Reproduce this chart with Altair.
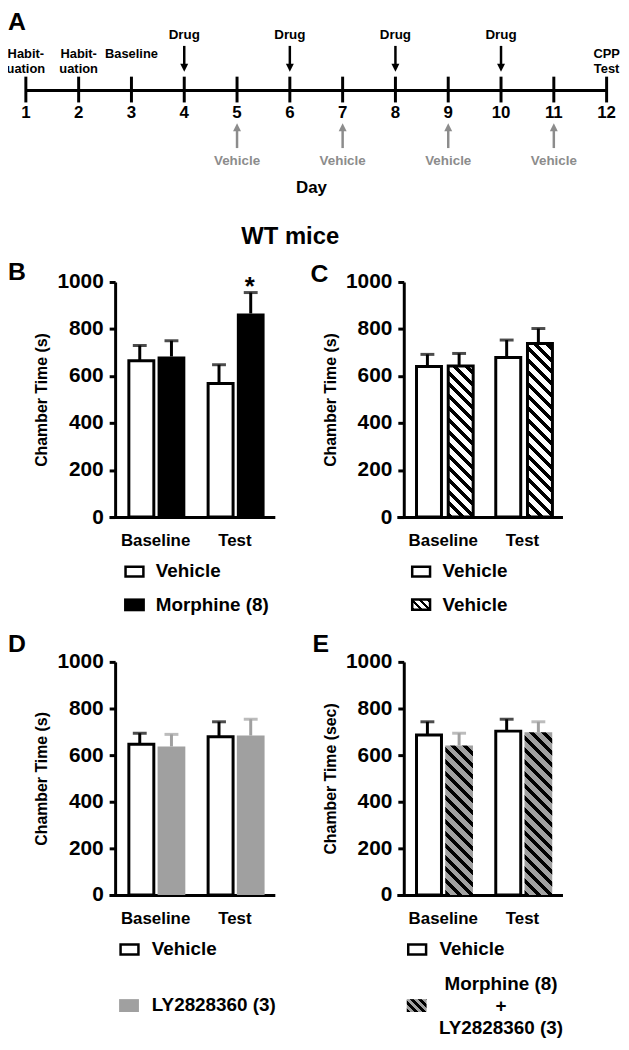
import altair as alt
import pandas as pd

FONT = "Liberation Sans"
W, H = 618, 1034
GRAY = "#a0a0a0"
TL_GRAY = "#8c8c8c"

# ---------------- data ----------------
days = [1, 2, 3, 4, 5, 6, 7, 8, 9, 10, 11, 12]
top_label_days = [1, 2, 3, 12]
top_labels = ["Habit-\nuation", "Habit-\nuation", "Baseline", "CPP\nTest"]
drug_days = [4, 6, 8, 10]
vehicle_days = [5, 7, 9, 11]

groups = ["Baseline", "Test"]
series = ["first", "second"]

B_legend = ["Vehicle", "Morphine (8)"]
B_first_mean = [665, 568]
B_first_sem = [65, 80]
B_second_mean = [683, 866]
B_second_sem = [67, 89]
B_second_star = ["", "*"]

C_legend = ["Vehicle", "Vehicle"]
C_first_mean = [640, 679]
C_first_sem = [52, 74]
C_second_mean = [643, 738]
C_second_sem = [53, 64]

D_legend = ["Vehicle", "LY2828360 (3)"]
D_first_mean = [647, 679]
D_first_sem = [47, 64]
D_second_mean = [637, 684]
D_second_sem = [52, 70]

E_legend = ["Vehicle", "Morphine (8)\n+\nLY2828360 (3)"]
E_first_mean = [686, 703]
E_first_sem = [57, 51]
E_second_mean = [641, 698]
E_second_sem = [53, 45]


# ---------------- helpers ----------------
def panel_df(m1, s1, m2, s2, star2=None):
    rows = []
    for i, g in enumerate(groups):
        rows.append(dict(group=g, series=series[0], mean=m1[i], top=m1[i] + s1[i], star=""))
        rows.append(dict(group=g, series=series[1], mean=m2[i], top=m2[i] + s2[i],
                         star=(star2[i] if star2 else "")))
    return pd.DataFrame(rows)


def hatch(w, h, bg, fg, period, frac=0.45, phase=0.0):
    L = w + h
    stops = [alt.GradientStop(color=bg, offset=0)]
    s = phase
    while s < L:
        a = round(min(max(s, 0), L) / L, 5)
        b = round(min(s + frac * period, L) / L, 5)
        stops += [alt.GradientStop(color=bg, offset=a), alt.GradientStop(color=fg, offset=a),
                  alt.GradientStop(color=fg, offset=b), alt.GradientStop(color=bg, offset=b)]
        s += period
    stops.append(alt.GradientStop(color=bg, offset=1))
    c = w * L / (w * w + h * h)
    return alt.LinearGradient(gradient="linear", stops=stops, x1=0, y1=1,
                              x2=round(c, 6), y2=round(1 - c * h / w, 6))


def text_layer(txt, x, y, size, color="black", align="left", baseline="middle", line_height=None):
    kw = dict(font=FONT, fontSize=size, fontWeight="bold", color=color, align=align, baseline=baseline)
    if line_height:
        kw.update(lineBreak="\n", lineHeight=line_height)
    return alt.Chart(pd.DataFrame({"t": [txt]})).mark_text(**kw).encode(
        x=alt.value(x), y=alt.value(y), text="t:N")


def swatch(x, y, w, h, fill, stroke=None):
    kw = dict(fill=fill)
    if stroke:
        kw.update(stroke=stroke, strokeWidth=2.5)
    return alt.Chart(pd.DataFrame({"k": [0]})).mark_rect(**kw).encode(
        x=alt.value(x), x2=alt.value(x + w), y=alt.value(y), y2=alt.value(y + h))


STROKE_BAND = 0.9


def bar_panel(df, styles, x_range, y_range, yaxis_x, ytitle):
    y0, y1 = y_range
    pi, po, al = 0.25, 0.17, 0.62
    sub_pi = 0.125
    R = x_range[1] - x_range[0]
    step = R / (len(groups) - pi + 2 * po)
    band = step * (1 - pi)
    bw = band / (len(series) - sub_pi) * (1 - sub_pi)
    xscale = alt.Scale(domain=groups, range=list(x_range), paddingInner=pi, paddingOuter=po, align=al)
    oscale = alt.Scale(domain=series, paddingInner=sub_pi, paddingOuter=0)
    yscale = alt.Scale(domain=[0, 1000], range=[y0, y1], nice=False, zero=True)
    xaxis = alt.Axis(orient="bottom", offset=y0 - H, ticks=False, tickSize=0, grid=False,
                     domainColor="black", domainWidth=3, labelFont=FONT, labelFontSize=17,
                     labelFontWeight="bold", labelColor="black", labelPadding=16, labelAngle=0,
                     labelBaseline="top", title=None)
    yaxis = alt.Axis(orient="left", offset=-yaxis_x, values=[0, 200, 400, 600, 800, 1000],
                     format="d", grid=False, domainColor="black", domainWidth=3,
                     tickColor="black", tickWidth=3, tickSize=6, labelFont=FONT,
                     labelFontSize=21, labelFontWeight="bold", labelColor="black",
                     labelPadding=6, labelFlush=False, labelOverlap=False,
                     title=ytitle, titleFont=FONT, titleFontSize=16, titleFontWeight="bold",
                     titleColor="black", titleAngle=270, titleX=-74, titleY=(y0 + y1) / 2,
                     titleAlign="center", titleBaseline="middle")
    base = alt.Chart(df)
    X = alt.X("group:N", scale=xscale, axis=None)
    XO = alt.XOffset("series:N", scale=oscale)
    YM = alt.Y("mean:Q", scale=yscale, axis=None)
    layers = []
    # axes carrier (invisible bars)
    layers.append(base.mark_bar(opacity=0).encode(
        x=alt.X("group:N", scale=xscale, axis=xaxis), xOffset=XO,
        y=alt.Y("mean:Q", scale=yscale, axis=yaxis)))
    for sid, st in zip(series, styles):
        kw = {}
        if st.get("stroke"):
            kw.update(stroke=st["stroke"], strokeWidth=3, width=alt.RelativeBandSize(band=STROKE_BAND))
            w = bw * STROKE_BAND
        else:
            kw.update(strokeWidth=0)
            w = bw
        if st["kind"] == "plain":
            layers.append(base.transform_filter(alt.datum.series == sid)
                          .mark_bar(fill=st["fill"], **kw)
                          .encode(x=X, xOffset=XO, y=YM))
        else:
            for g in groups:
                m = df[(df.series == sid) & (df.group == g)]["mean"].iloc[0]
                hpx = m / 1000 * (y0 - y1)
                grad = hatch(w, hpx, st["bg"], st["fg"], period=12, frac=0.42)
                layers.append(base.transform_filter((alt.datum.series == sid) & (alt.datum.group == g))
                              .mark_bar(fill=grad, **kw)
                              .encode(x=X, xOffset=XO, y=YM))
    for sid, st in zip(series, styles):
        f = base.transform_filter(alt.datum.series == sid)
        layers.append(f.mark_rule(strokeWidth=3, color=st["err"]).encode(
            x=X, xOffset=XO, y=YM, y2="top:Q"))
        layers.append(f.mark_tick(thickness=3, size=14, color=st["err"], orient="horizontal").encode(
            x=X, xOffset=XO, y=alt.Y("top:Q", scale=yscale, axis=None)))
    # significance marker (text marks centre on the group band, so shift back to the bar)
    layers.append(base.mark_text(font=FONT, fontSize=26, fontWeight="bold", baseline="middle",
                                 dy=-6, dx=-(band / 2 - bw / 2) + 1, color="black").encode(
        x=X, xOffset=XO, y=alt.Y("top:Q", scale=yscale, axis=None), text="star:N"))
    return layers


# ---------------- timeline (A) ----------------
tx = alt.Scale(domain=[days[0], days[-1]], range=[18, 603.5], nice=False, zero=False)
tl_days = pd.DataFrame({"day": days})
tl_top = pd.DataFrame({"day": top_label_days, "label": top_labels})
tl_drug = pd.DataFrame({"day": drug_days, "label": ["Drug"] * len(drug_days)})
tl_veh = pd.DataFrame({"day": vehicle_days, "label": ["Vehicle"] * len(vehicle_days)})
DX = alt.X("day:Q", scale=tx, axis=None)

tl_line = alt.Chart(pd.DataFrame({"start": [days[0]], "end": [days[-1]]})).mark_rule(
    strokeWidth=3, color="black").encode(x=alt.X("start:Q", scale=tx, axis=None), x2="end:Q",
                                         y=alt.value(79))
tl_ticks = alt.Chart(tl_days).mark_rule(strokeWidth=3, color="black").encode(
    x=DX, y=alt.value(65), y2=alt.value(91))
tl_nums = alt.Chart(tl_days).mark_text(font=FONT, fontSize=17, fontWeight="bold",
                                       baseline="middle", color="black").encode(
    x=DX, y=alt.value(102), text="day:N")
tl_toplab = alt.Chart(tl_top).mark_text(font=FONT, fontSize=13, fontWeight="bold",
                                        baseline="middle", lineBreak="\n", lineHeight=15,
                                        color="black").encode(
    x=DX, y=alt.value(42), text="label:N")
drug_text = alt.Chart(tl_drug).mark_text(font=FONT, fontSize=13.5, fontWeight="bold",
                                         baseline="middle", color="black").encode(
    x=DX, y=alt.value(23), text="label:N")
drug_shaft = alt.Chart(tl_drug).mark_rule(strokeWidth=2.5, color="black").encode(
    x=DX, y=alt.value(34), y2=alt.value(54))
drug_head = alt.Chart(tl_drug).mark_point(shape="M-1,-1L1,-1L0,1Z", filled=True, size=64,
                                          opacity=1, color="black", strokeWidth=0).encode(
    x=DX, y=alt.value(56))
veh_head = alt.Chart(tl_veh).mark_point(shape="M-1,1L1,1L0,-1Z", filled=True, size=64,
                                        opacity=1, color=TL_GRAY, strokeWidth=0).encode(
    x=DX, y=alt.value(116))
veh_shaft = alt.Chart(tl_veh).mark_rule(strokeWidth=2.5, color=TL_GRAY).encode(
    x=DX, y=alt.value(118), y2=alt.value(137))
veh_text = alt.Chart(tl_veh).mark_text(font=FONT, fontSize=13.5, fontWeight="bold",
                                       baseline="middle", color=TL_GRAY).encode(
    x=DX, y=alt.value(150), text="label:N")
timeline = [tl_line, tl_ticks, tl_nums, tl_toplab, drug_text, drug_shaft, drug_head,
            veh_head, veh_shaft, veh_text]

# ---------------- bar panels ----------------
white = dict(kind="plain", fill="white", stroke="black", err="black")
panelB = bar_panel(panel_df(B_first_mean, B_first_sem, B_second_mean, B_second_sem, B_second_star),
                   [white, dict(kind="plain", fill="black", err="black")],
                   (102, 269), (509, 272), 108, "Chamber Time (s)")
panelC = bar_panel(panel_df(C_first_mean, C_first_sem, C_second_mean, C_second_sem),
                   [white, dict(kind="hatch", bg="white", fg="black", stroke="black", err="black")],
                   (392, 559), (509, 272), 399, "Chamber Time (s)")
panelD = bar_panel(panel_df(D_first_mean, D_first_sem, D_second_mean, D_second_sem),
                   [white, dict(kind="plain", fill=GRAY, err=GRAY)],
                   (102, 269), (890, 655), 108, "Chamber Time (s)")
panelE = bar_panel(panel_df(E_first_mean, E_first_sem, E_second_mean, E_second_sem),
                   [white, dict(kind="hatch", bg=GRAY, fg="black", err=GRAY)],
                   (392, 559), (890, 655), 399, "Chamber Time (sec)")

# ---------------- annotations ----------------
ann = [
    text_layer("A", 0, 10, 25),
    text_layer("WT mice", 284.5, 227, 24, align="center"),
    text_layer("Day", 306, 177, 17, align="center"),
    text_layer("B", 0, 262, 25),
    text_layer("C", 305, 264, 25),
    text_layer("D", 0, 637, 25),
    text_layer("E", 307, 637, 25),
    # legend B
    swatch(118.5, 559, 18, 10, "white", "black"),
    text_layer(B_legend[0], 149, 563.5, 19),
    swatch(117, 591, 21, 13, "black"),
    text_layer(B_legend[1], 149, 598, 19),
    # legend C
    swatch(407.5, 559, 18, 10, "white", "black"),
    text_layer(C_legend[0], 438, 563.5, 19),
    swatch(407.5, 592, 18, 10.5, hatch(18, 10.5, "white", "black", period=8, frac=0.45), "black"),
    text_layer(C_legend[1], 438, 598, 19),
    # legend D
    swatch(113.5, 940, 18, 10, "white", "black"),
    text_layer(D_legend[0], 145, 945, 19),
    swatch(112, 995, 20, 13, GRAY),
    text_layer(D_legend[1], 145, 1001, 19),
    # legend E
    swatch(403.5, 940, 18, 10, "white", "black"),
    text_layer(E_legend[0], 435, 945, 19),
    swatch(402, 995, 20, 13, hatch(20, 13, GRAY, "black", period=8, frac=0.45)),
    text_layer(E_legend[1], 497, 980, 19, align="center", line_height=22),
]

chart = alt.layer(*timeline, *panelB, *panelC, *panelD, *panelE, *ann).resolve_scale(
    x="independent", y="independent", xOffset="independent"
).resolve_axis(x="independent", y="independent").properties(
    width=W, height=H, padding=0, autosize=alt.AutoSizeParams(type="none")
).configure_view(stroke=None)

chart.save("out.html", embed_options={"renderer": "svg", "actions": False})
